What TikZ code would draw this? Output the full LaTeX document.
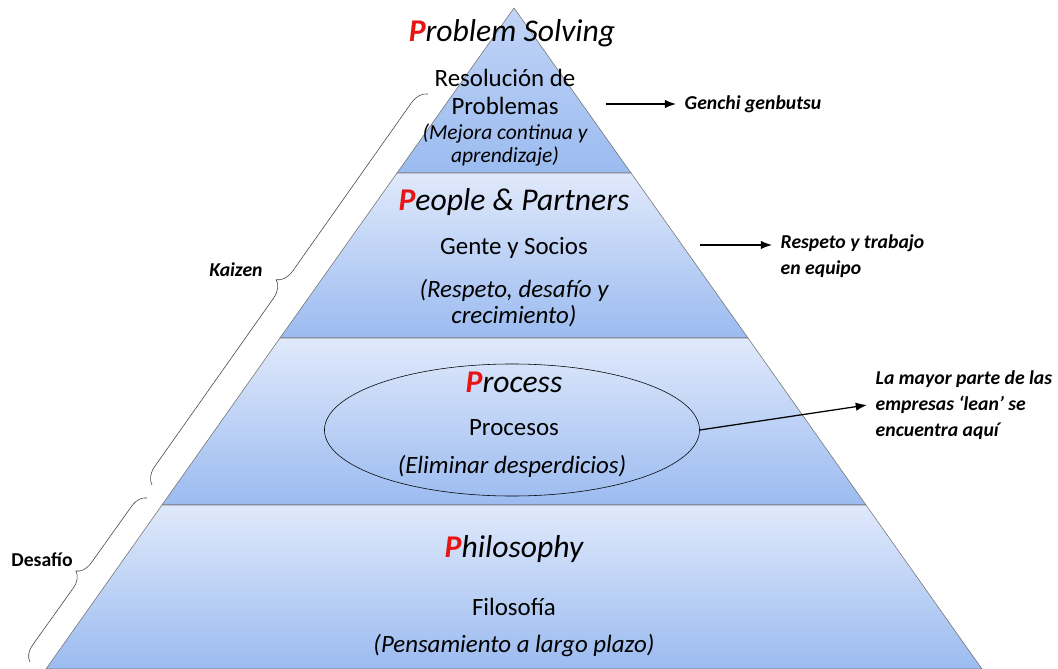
\documentclass[tikz,border=0pt]{standalone}
\usepackage{fontspec}
\setmainfont{Carlito}
\usetikzlibrary{positioning,arrows.meta,shapes.geometric,decorations.pathreplacing}
\definecolor{layertop}{RGB}{224,233,251}
\definecolor{layerbot}{RGB}{155,187,240}
\definecolor{pred}{RGB}{232,20,20}
\newcommand{\redP}{\textcolor{pred}{\textbf{P}}}

\begin{document}
\begin{tikzpicture}[
    x = 0.025cm, y = -0.025cm,
    > = {Latex[length=8pt, width=6pt]},
    layer/.style={draw=black!55, top color=layertop, bottom color=layerbot},
    title/.style={font=\fontsize{22.5}{27}\selectfont\itshape},
    body/.style={font=\fontsize{17.7}{20}\selectfont, align=center},
    bodyit/.style={font=\fontsize{17.7}{18.5}\selectfont\itshape, align=center},
    smallit/.style={font=\fontsize{15.3}{17}\selectfont\itshape, align=center},
    note/.style={font=\fontsize{14}{18.5}\selectfont\bfseries\itshape, align=left, anchor=west, inner sep=6pt},
    pointer/.style={->, line width=0.9pt},
    sidebrace/.style={decorate, decoration={brace, amplitude=#1}, draw=black!75, thin}
]
    \useasboundingbox (0,0) rectangle (1058,669);

    % pyramid layers
    \coordinate (apex) at (514,8);
    \coordinate (l1) at (397,173);
    \coordinate (r1) at (631,173);
    \coordinate (l2) at (280,338);
    \coordinate (r2) at (748,338);
    \coordinate (l3) at (162,505);
    \coordinate (r3) at (866,505);
    \coordinate (l4) at (46,669);
    \coordinate (r4) at (982,669);

    \path[layer, top color=layertop!55!layerbot] (apex) -- (r1) -- (l1) -- cycle;
    \path[layer] (l1) -- (r1) -- (r2) -- (l2) -- cycle;
    \path[layer] (l2) -- (r2) -- (r3) -- (l3) -- cycle;
    \path[layer] (l3) -- (r3) -- (r4) -- (l4) -- cycle;

    % problem solving
    \node[title] (ps) at (512,33) {\redP roblem Solving};
    \node[body] (res) at (505,92) {Resolución de\\Problemas};
    \node[smallit] (mej) at (505,145) {(Mejora continua y\\aprendizaje)};

    % people and partners
    \node[title] (pp) at (514,202) {\redP eople \& Partners};
    \node[body] (gente) at (514,248) {Gente y Socios};
    \node[bodyit] (resp) at (514,303) {(Respeto, desafío y\\crecimiento)};

    % process
    \node[draw, ellipse, thin, minimum width=9.375cm, minimum height=3.3cm] (proc) at (512,430) {};
    \node[title] (pr) at (514,382) {\redP rocess};
    \node[body] (procs) at (514,428) {Procesos};
    \node[bodyit] (elim) at (512,466) {(Eliminar desperdicios)};

    % philosophy
    \node[title] (ph) at (514,549) {\redP hilosophy};
    \node[body] (filo) at (514,607) {Filosofía};
    \node[bodyit] (pens) at (514,646) {(Pensamiento a largo plazo)};

    % notes on the right
    \node[note] (genchi) at (676,104) {Genchi genbutsu};
    \node[note] (equipo) at (772,256) {Respeto y trabajo\\en equipo};
    \node[note] (lean) at (867,405) {La mayor parte de las\\empresas ‘lean’ se\\encuentra aquí};

    \coordinate (g0) at (606,104);
    \coordinate (e0) at (700,245);
    \draw[pointer] (g0) -- (g0 -| genchi.west);
    \draw[pointer] (e0) -- (e0 -| equipo.west);
    \draw[pointer] (proc.east) -- (lean.west);

    % braces on the left
    \coordinate (kz1) at (152,485);
    \coordinate (kz2) at (428,94);
    \coordinate (df1) at (30,662);
    \coordinate (df2) at (147,498);
    \draw[sidebrace=12pt] (kz1) -- (kz2);
    \draw[sidebrace=11pt] (df1) -- (df2);
    \node[note, anchor=center] (kaizen) at (236,270) {Kaizen};
    \node[note, anchor=center, font=\fontsize{14}{17}\selectfont\bfseries] (desafio) at (42,560) {Desafío};
\end{tikzpicture}
\end{document}
